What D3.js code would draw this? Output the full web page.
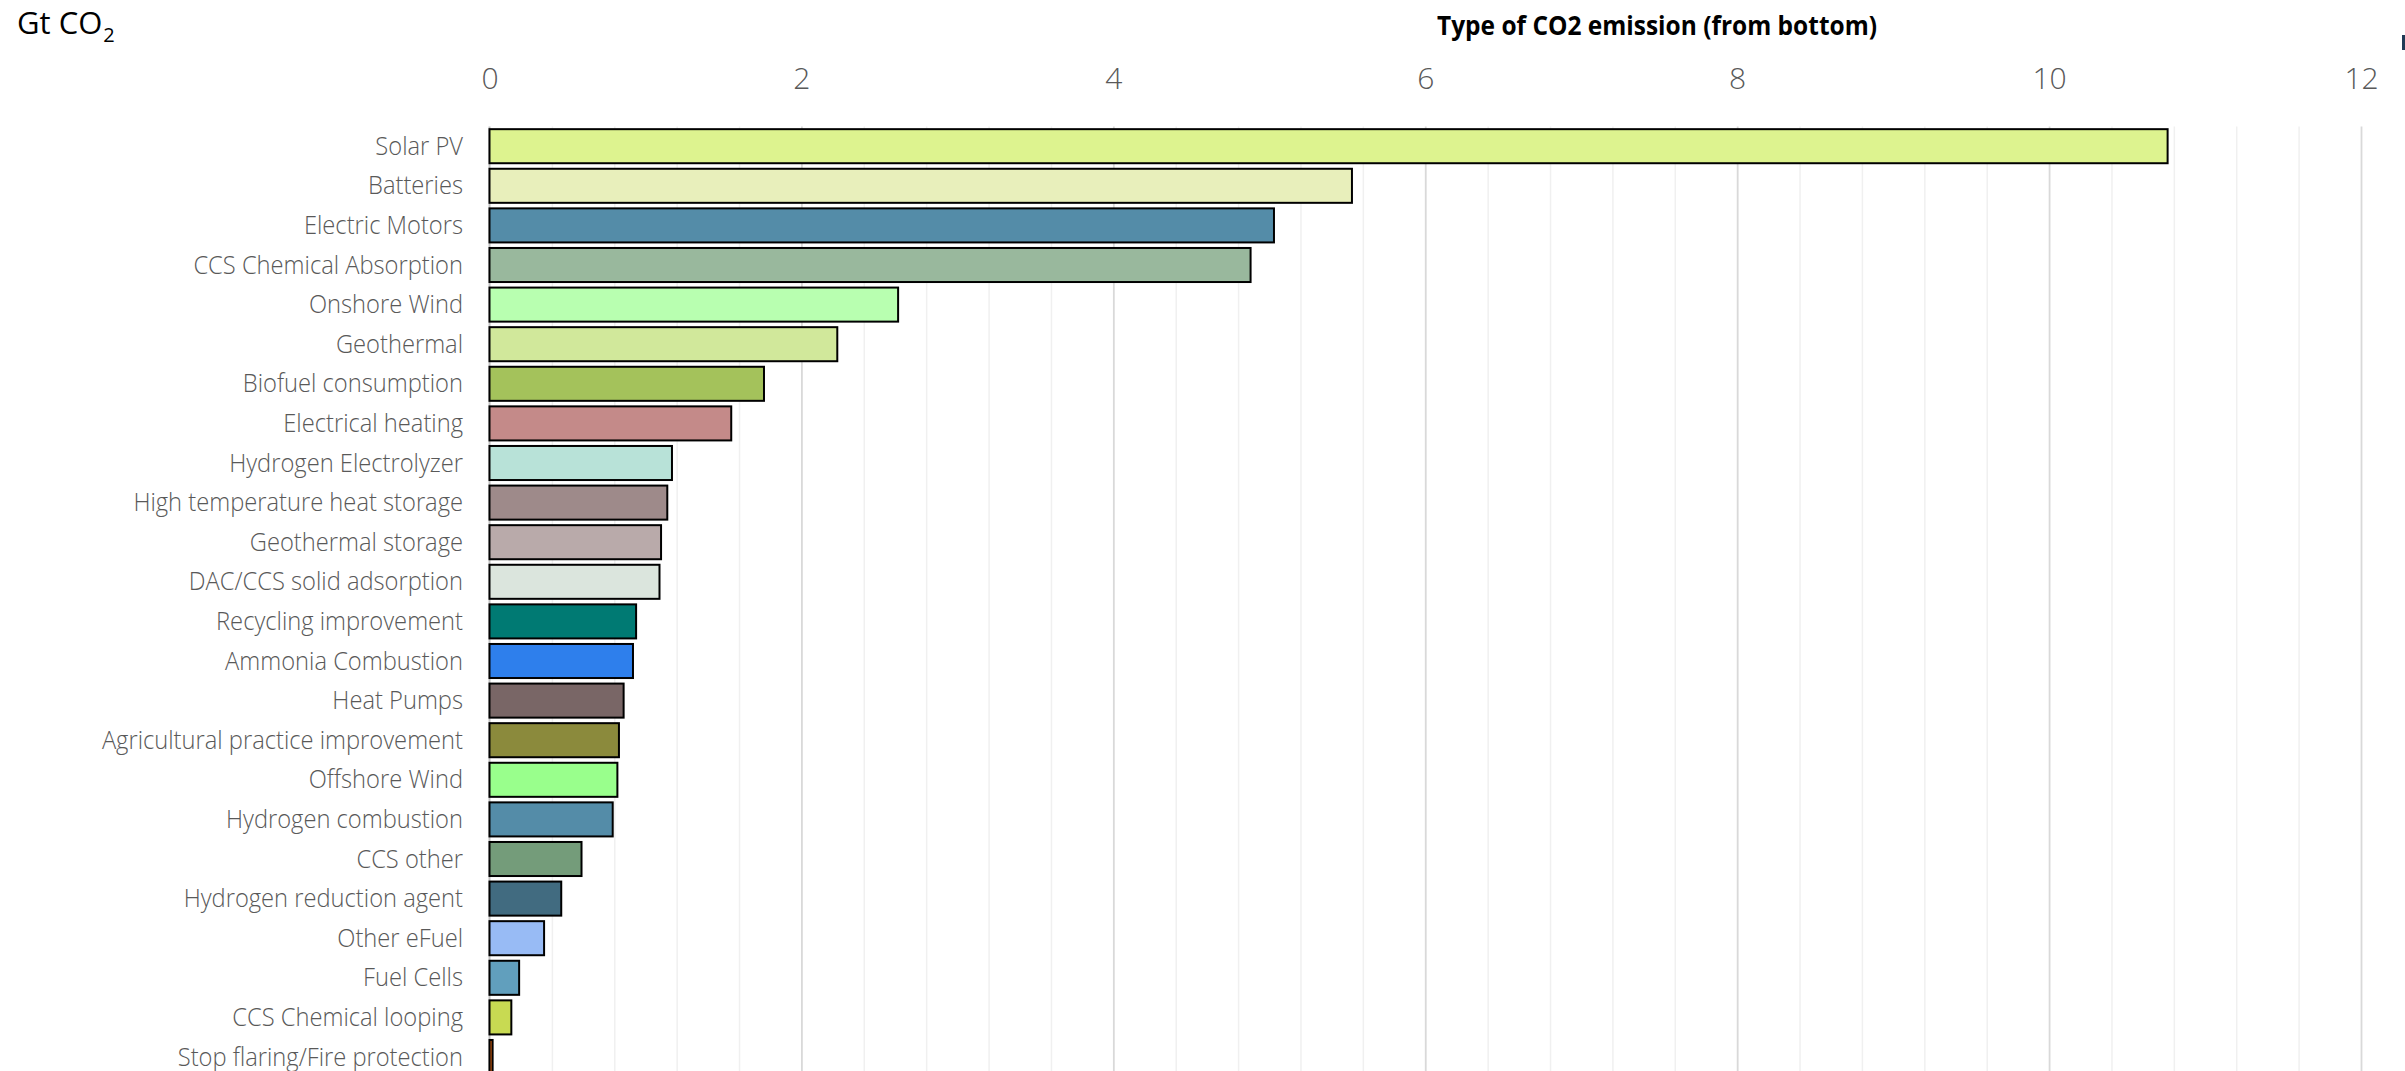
<!DOCTYPE html>
<html>
<head>
<meta charset="utf-8">
<script src="https://cdn.jsdelivr.net/npm/d3@7"></script>
<style>
  html, body { margin: 0; padding: 0; background: #ffffff; }
  svg { display: block; }
  text { font-family: "Open Sans", "Noto Sans", sans-serif; }
</style>
</head>
<body>
<svg id="chart" width="2405" height="1071"></svg>
<script>
// ---- data ----
const categories = [
  "Solar PV", "Batteries", "Electric Motors", "CCS Chemical Absorption",
  "Onshore Wind", "Geothermal", "Biofuel consumption", "Electrical heating",
  "Hydrogen Electrolyzer", "High temperature heat storage", "Geothermal storage",
  "DAC/CCS solid adsorption", "Recycling improvement", "Ammonia Combustion",
  "Heat Pumps", "Agricultural practice improvement", "Offshore Wind",
  "Hydrogen combustion", "CCS other", "Hydrogen reduction agent", "Other eFuel",
  "Fuel Cells", "CCS Chemical looping", "Stop flaring/Fire protection"
];
const values = [
  10.76, 5.53, 5.03, 4.88,
  2.62, 2.23, 1.76, 1.55,
  1.17, 1.14, 1.10,
  1.09, 0.94, 0.92,
  0.86, 0.83, 0.82,
  0.79, 0.59, 0.46, 0.35,
  0.19, 0.14, 0.02
];
const barColors = [
  "#ddf38f", "#e8efbb", "#548ca8", "#99b89d",
  "#b8ffb0", "#d1e89b", "#a4c25b", "#c48a89",
  "#b8e2d8", "#9e8a8a", "#b9aaaa",
  "#dbe5dd", "#007a73", "#2e7fec",
  "#796666", "#8b8a3c", "#99ff8c",
  "#548ca8", "#749c7a", "#416b80", "#98bbf5",
  "#619fbd", "#c8da52", "#c55a11"
];
const majorTicks = [0, 2, 4, 6, 8, 10, 12];
const minorTicks = d3.range(0, 31).map(i => i * 0.4);
const unitTitle = "Gt CO";
const unitSub = "2";
const chartTitle = "Type of CO2 emission (from bottom)";

// ---- layout ----
const svg = d3.select("#chart");
const x0 = 489.5, x1 = 2361;
const yTop = 126.4, step = 39.6;

const x = d3.scaleLinear().domain([0, 12]).range([x0, x1]);
const y = d3.scaleBand()
  .domain(categories)
  .range([yTop, yTop + step * categories.length])
  .paddingInner(0.14)
  .paddingOuter(0.07);

const gridBottom = 1071;
const isMajor = v => majorTicks.some(m => Math.abs(m - v) < 1e-6);

// minor gridlines
svg.append("g")
  .attr("transform", `translate(0,${yTop})`)
  .call(d3.axisTop(x).tickValues(minorTicks.filter(v => !isMajor(v)))
        .tickSize(-(gridBottom - yTop)).tickFormat(""))
  .call(g => g.select(".domain").remove())
  .call(g => g.selectAll("line").attr("stroke", "#f0f0f0").attr("stroke-width", 1.5));

// major gridlines
svg.append("g")
  .attr("transform", `translate(0,${yTop})`)
  .call(d3.axisTop(x).tickValues(majorTicks.filter(v => v !== 0))
        .tickSize(-(gridBottom - yTop)).tickFormat(""))
  .call(g => g.select(".domain").remove())
  .call(g => g.selectAll("line").attr("stroke", "#d9d9d9").attr("stroke-width", 1.8));

// vertical axis line at 0
svg.append("line")
  .attr("x1", x(0)).attr("x2", x(0))
  .attr("y1", yTop).attr("y2", gridBottom)
  .attr("stroke", "#bfbfbf").attr("stroke-width", 2);

// bars
svg.append("g")
  .selectAll("rect")
  .data(categories)
  .join("rect")
  .attr("x", x(0))
  .attr("y", d => y(d))
  .attr("width", (d, i) => x(values[i]) - x(0))
  .attr("height", y.bandwidth())
  .attr("fill", (d, i) => barColors[i])
  .attr("stroke", "#000")
  .attr("stroke-width", 2);

// top tick labels
svg.append("g")
  .attr("transform", "translate(0,89)")
  .call(d3.axisTop(x).tickValues(majorTicks).tickSize(0).tickPadding(0).tickFormat(d3.format("d")))
  .call(g => g.select(".domain").remove())
  .call(g => g.selectAll("text")
    .attr("font-family", '"Open Sans", sans-serif')
    .attr("font-size", 30)
    .attr("font-weight", 300)
    .attr("fill", "#595959"));

// category labels
const labelGap = 26.5;
const labelScale = 0.93;
const yAxis = svg.append("g")
  .attr("transform", `translate(${x0},0)`)
  .call(d3.axisLeft(y).tickSize(0).tickPadding(0))
  .call(g => g.select(".domain").remove());
yAxis.selectAll("text")
  .attr("font-family", '"Open Sans", sans-serif')
  .attr("font-size", 25.5)
  .attr("font-weight", 300)
  .attr("fill", "#595959")
  .attr("dy", null)
  .attr("y", 8.5)
  .attr("x", -labelGap / labelScale)
  .attr("transform", `scale(${labelScale},1)`);

// unit title
const ut = svg.append("text")
  .attr("x", 17).attr("y", 33.5)
  .attr("font-size", 31)
  .attr("fill", "#000");
ut.append("tspan").text(unitTitle);
ut.append("tspan").attr("font-size", 20).attr("dy", 8.5).attr("dx", 1).text(unitSub);

// chart title
svg.append("text")
  .attr("x", 1437).attr("y", 35)
  .attr("font-size", 27)
  .attr("font-weight", 700)
  .attr("fill", "#000")
  .attr("textLength", 440)
  .attr("lengthAdjust", "spacingAndGlyphs")
  .text(chartTitle);

// clipped legend marker at the right edge
svg.append("rect")
  .attr("x", 2402).attr("y", 35).attr("width", 4).attr("height", 15)
  .attr("fill", "#203a55");
</script>
</body>
</html>
